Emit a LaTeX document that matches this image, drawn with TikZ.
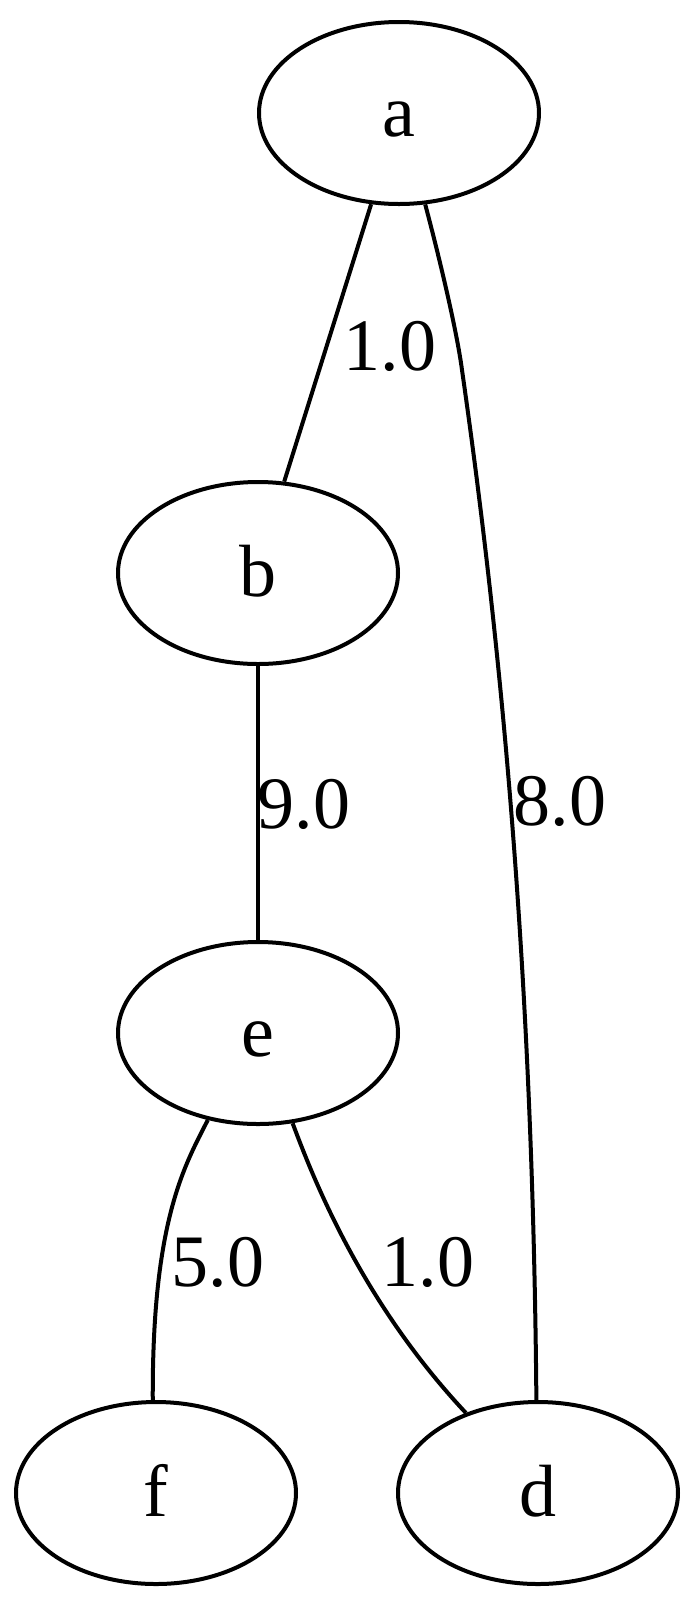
\documentclass[tikz,border=0pt]{standalone}
\usepackage{fontspec}
\setmainfont{Liberation Serif}
\usetikzlibrary{shapes.geometric}
\begin{document}
\begin{tikzpicture}[x=1pt,y=-1pt,
  vertex/.style={draw, ellipse, line width=4pt, inner sep=0pt,
    minimum width=280pt, minimum height=182pt,
    font=\fontsize{74}{80}\selectfont, text height=46pt, text depth=0pt},
  link/.style={line width=4pt},
  weight/.style={font=\fontsize{74}{80}\selectfont, inner sep=0pt}]
\useasboundingbox (0,0) rectangle (700,1607);

% vertices
\node[vertex] (a) at (399,113) {a};
\node[vertex] (b) at (258,573) {b};
\node[vertex] (e) at (258,1033) {e};
\node[vertex] (f) at (156,1493) {f};
\node[vertex] (d) at (538,1493) {d};

% edges
\draw[link] (a.-107) -- (b.74);
\draw[link] (a.-74) .. controls (440,260) and (457,332) .. (462,370)
  .. controls (505,670) and (533,1000) .. (d.91);
\draw[link] (b.south) -- (e.north);
\draw[link] (e.-120) .. controls (185,1165) and (152,1220) .. (f.92);
\draw[link] (e.-69) .. controls (312,1175) and (360,1300) .. (d.132);

% edge weights
\node[weight] (wab) at (390,346) {1.0};
\node[weight] (wad) at (560,801) {8.0};
\node[weight] (wbe) at (304,804) {9.0};
\node[weight] (wef) at (218,1262) {5.0};
\node[weight] (wed) at (428,1262) {1.0};
\end{tikzpicture}
\end{document}
